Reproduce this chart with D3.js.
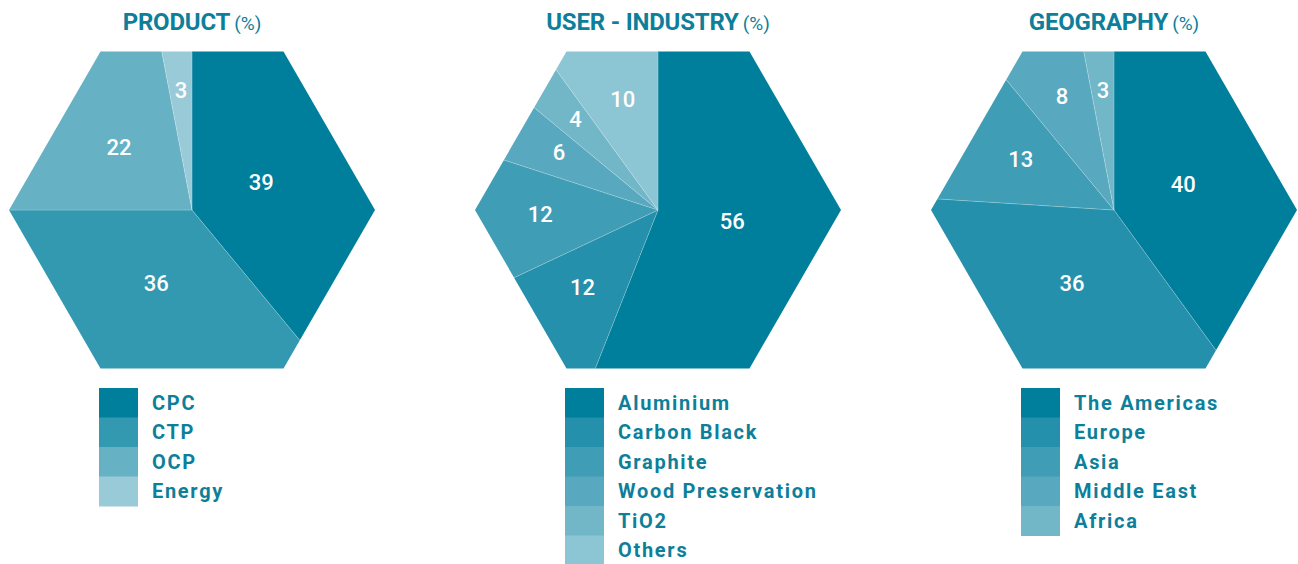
<!DOCTYPE html>
<html>
<head>
<meta charset="utf-8">
<script src="https://cdn.jsdelivr.net/npm/d3@7"></script>
<style>
    body { margin: 0; background: #ffffff; }
    svg { display: block; }
    .title { font-family: Roboto, sans-serif; fill: #0e7f9a; }
    .legend-text { font-family: Roboto, sans-serif; font-weight: 700; fill: #0e7f9a; letter-spacing: 1.7px; }
    .slice-label { font-family: Roboto, sans-serif; font-weight: 500; fill: #ffffff; }
</style>
</head>
<body>
<svg id="chart" width="1298" height="564"></svg>
<script>
// Chart data
var productTitle = "PRODUCT";
var productLabels = ["CPC", "CTP", "OCP", "Energy"];
var productValues = [39, 36, 22, 3];
var productColors = ["#007f9c", "#3399b0", "#66b2c4", "#99cad8"];

var industryTitle = "USER - INDUSTRY";
var industryLabels = ["Aluminium", "Carbon Black", "Graphite", "Wood Preservation", "TiO2", "Others"];
var industryValues = [56, 12, 12, 6, 4, 10];
var industryColors = ["#007f9c", "#2590ab", "#3f9db5", "#58a9bf", "#72b7c8", "#8cc5d3"];

var geoTitle = "GEOGRAPHY";
var geoLabels = ["The Americas", "Europe", "Asia", "Middle East", "Africa"];
var geoValues = [40, 36, 13, 8, 3];
var geoColors = ["#007f9c", "#2590ab", "#3f9db5", "#58a9bf", "#72b7c8"];

var svg = d3.select("#chart");

// hexagon size (circumradius) and layout
var R = 183;
var inR = R * Math.sqrt(3) / 2;
var cy = 210;

// small slices get their label pushed further out
var labelFrac = d3.scaleLinear().domain([0, 40]).range([0.76, 0.45]).clamp(true);

renderHexPie(0, 192, productTitle, productLabels, productValues, productColors);
renderHexPie(1, 658, industryTitle, industryLabels, industryValues, industryColors);
renderHexPie(2, 1114, geoTitle, geoLabels, geoValues, geoColors);

// distance from centre to hexagon edge along angle a (clockwise from top)
function hexDist(a) {
    var step = Math.PI / 3;
    var diff = a - Math.round(a / step) * step;
    return inR / Math.cos(diff);
}

function renderHexPie(idx, cx, title, labels, values, colors) {
    var g = svg.append("g")
        .attr("transform", "translate(" + cx + "," + cy + ")");

    // flat top / bottom hexagon used as clip
    var hexPoints = d3.range(6).map(function(i) {
        var t = i * Math.PI / 3;
        return [R * Math.cos(t), R * Math.sin(t)];
    });
    svg.append("defs").append("clipPath").attr("id", "hex" + idx)
        .append("polygon")
        .attr("points", hexPoints.map(function(p) { return p.join(","); }).join(" "));

    var pie = d3.pie().sort(null).value(function(d) { return d; });
    var arcs = pie(values);
    var arc = d3.arc().innerRadius(0).outerRadius(R + 20);

    var slices = g.append("g").attr("clip-path", "url(#hex" + idx + ")");
    slices.selectAll("path")
        .data(arcs)
        .enter().append("path")
        .attr("d", arc)
        .attr("fill", function(d, i) { return colors[i]; })
        .attr("stroke", "rgba(255,255,255,0.3)")
        .attr("stroke-width", 0.6);

    // labels on the mid angle of each slice
    g.selectAll(".slice-label")
        .data(arcs)
        .enter().append("text")
        .attr("class", "slice-label")
        .attr("font-size", 22)
        .attr("text-anchor", "middle")
        .attr("dy", "0.36em")
        .attr("transform", function(d) {
            var a = (d.startAngle + d.endAngle) / 2;
            var r = hexDist(a) * labelFrac(d.value);
            return "translate(" + (r * Math.sin(a)) + "," + (-r * Math.cos(a) - 3) + ")";
        })
        .text(function(d) { return d.value; });

    // title
    var t = svg.append("text")
        .attr("class", "title")
        .attr("x", cx)
        .attr("y", 30)
        .attr("text-anchor", "middle");
    t.append("tspan")
        .attr("font-size", 24)
        .attr("font-weight", 700)
        .attr("letter-spacing", "-0.2px")
        .text(title);
    t.append("tspan")
        .attr("font-size", 19)
        .attr("font-weight", 400)
        .attr("dx", 4)
        .text("(%)");

    // legend
    var lx = cx - 93;
    var rowH = 29.5;
    var legend = svg.append("g")
        .attr("transform", "translate(" + lx + ",388)");
    var rows = legend.selectAll("g")
        .data(labels)
        .enter().append("g")
        .attr("transform", function(d, i) { return "translate(0," + (i * rowH) + ")"; });
    rows.append("rect")
        .attr("width", 39)
        .attr("height", rowH + 0.5)
        .attr("fill", function(d, i) { return colors[i]; });
    rows.append("text")
        .attr("class", "legend-text")
        .attr("x", 53)
        .attr("y", rowH / 2)
        .attr("dy", "0.36em")
        .attr("font-size", 20)
        .text(function(d) { return d; });
}
</script>
</body>
</html>
